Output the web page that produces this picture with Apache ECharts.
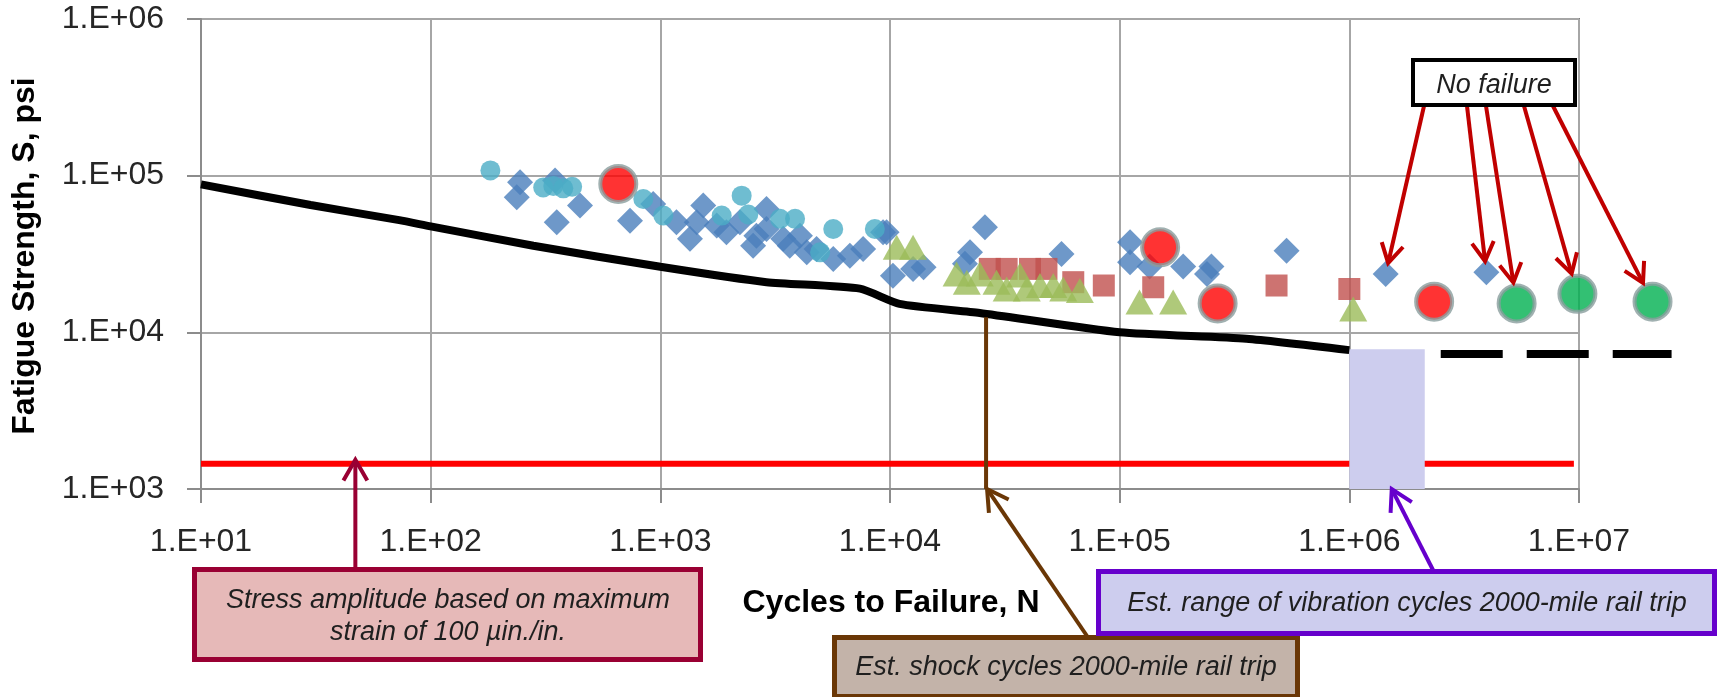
<!DOCTYPE html>
<html>
<head>
<meta charset="utf-8">
<script src="https://cdn.jsdelivr.net/npm/echarts@6/dist/echarts.min.js"></script>
<style>
html,body{margin:0;padding:0;background:#ffffff;}
#chart{width:1723px;height:697px;}
</style>
</head>
<body>
<div id="chart"></div>
<script>
// ---------------- data ----------------
const xAxisMin = 10, xAxisMax = 1e7;
const yAxisMin = 1000, yAxisMax = 1e6;

const blueDiamonds = [
  [245, 90800], [237, 72800], [348, 93000], [354, 50500], [447, 64400],
  [738, 51600], [931, 66000], [1175, 50500], [1346, 39500], [1538, 64400],
  [1440, 50500], [1760, 48000], [1940, 43600], [2220, 50500], [2535, 35700],
  [2620, 41400], [2900, 61200], [2900, 45700], [3430, 39500], [3660, 35700],
  [4055, 41400], [4340, 32400], [4790, 34000], [5660, 29400], [6690, 30800],
  [7640, 34000], [9330, 43600], [9660, 43600], [10300, 23000], [12600, 25400],
  [14000, 26000], [21200, 27400], [22300, 32400], [25900, 46900], [55800, 31600],
  [111000, 37600], [111000, 28000], [135000, 26300], [189000, 26300], [240000, 23600],
  [251000, 26300], [533000, 33200], [1440000, 23600], [3950000, 24200]
];
const cyanCircles = [
  [182, 108000], [309, 84000], [342, 86000], [378, 83000], [413, 85000],
  [843, 71000], [1030, 55600], [1850, 55600], [2260, 74500], [2415, 56500],
  [3320, 53000], [3860, 53000], [4960, 32400], [5660, 45700], [8590, 45700]
];
const redSquares = [
  [27200, 25400], [32200, 25400], [40700, 25400], [48000, 25400], [62800, 20900],
  [85300, 19900], [140000, 19400], [482000, 19900], [1000000, 18900]
];
const greenTriangles = [
  [10700, 34900], [12600, 34900], [19500, 23600], [21600, 20900], [24600, 23600],
  [29100, 20900], [32200, 18900], [36800, 23200], [39400, 18900], [45000, 19900],
  [51400, 19900], [56800, 18900], [67100, 18500], [122000, 15600], [171000, 15600],
  [1040000, 14100]
];
const redCircles = [[656, 88500], [150000, 34900], [267000, 15300], [2340000, 15700]];
const greenCircles = [[5350000, 15300], [9840000, 17600], [20900000, 15700]];

const designCurve = [
  [10, 88000], [30, 65000], [73, 52000], [100, 47500], [280, 35700], [1000, 26200],
  [2900, 20900], [7400, 19000], [11000, 15200], [24600, 13300], [100000, 10000],
  [356000, 9100], [1000000, 7700]
];
const enduranceExtension = [[2500000, 7280], [25300000, 7280]];
const strainLimit = [[10, 1450], [9500000, 1450]];
const vibrationRange = [1000000, 2130000];   // cycles
const vibrationStress = [1000, 7800];        // psi (bottom, top)
const shockCycles = 26200;
const shockLineTop = 12500;
const strainArrowCycles = 47;
const vibrationArrowCycles = 1530000;

// which points the "No failure" arrows point at, and their symbol radius
const noFailureTargets = [[1440000, 23600], [3950000, 24200], [5350000, 15300], [9840000, 17600], [20900000, 15700]];
const noFailureRadius = [11, 11, 21, 21, 21];

function tickLabel(v) {
  const e = Math.round(Math.log10(v));
  return '1.E+' + String(e).padStart(2, '0');
}

// ---------------- chart ----------------
const FONT = "'Liberation Sans', Arial, sans-serif";
const chart = echarts.init(document.getElementById('chart'), null, {renderer: 'canvas'});

const scatterBase = {type: 'scatter', clip: false, silent: true};

chart.setOption({
  animation: false,
  backgroundColor: '#ffffff',
  grid: {left: 201, top: 19, width: 1378, height: 470, show: true, borderColor: '#7a7a7a', borderWidth: 2, containLabel: false},
  xAxis: {
    type: 'log', logBase: 10, min: xAxisMin, max: xAxisMax, splitNumber: 6,
    axisLine: {show: true, lineStyle: {color: '#8c8c8c', width: 2}},
    axisTick: {show: true, length: 14, lineStyle: {color: '#8c8c8c', width: 2}},
    minorTick: {show: false},
    splitLine: {show: true, lineStyle: {color: '#a6a6a6', width: 2}},
    axisLabel: {formatter: tickLabel, fontSize: 32, fontFamily: FONT, color: '#262626', margin: 37, showMinLabel: true, showMaxLabel: true, hideOverlap: false}
  },
  yAxis: {
    type: 'log', logBase: 10, min: yAxisMin, max: yAxisMax, splitNumber: 3,
    axisLine: {show: true, lineStyle: {color: '#8c8c8c', width: 2}},
    axisTick: {show: true, length: 14, lineStyle: {color: '#8c8c8c', width: 2}},
    minorTick: {show: false},
    splitLine: {show: true, lineStyle: {color: '#a6a6a6', width: 2}},
    axisLabel: {formatter: tickLabel, fontSize: 32, fontFamily: FONT, color: '#262626', margin: 37, showMinLabel: true, showMaxLabel: true, hideOverlap: false}
  },
  series: [
    {
      name: 'Strain limit', type: 'line', data: strainLimit, symbol: 'none', z: 2, silent: true,
      lineStyle: {color: '#ff0000', width: 6}
    },
    {
      name: 'Vibration range', type: 'custom', z: 3, silent: true,
      data: [[vibrationRange[0], vibrationRange[1], vibrationStress[0], vibrationStress[1]]],
      encode: {x: [0, 1], y: [2, 3]},
      renderItem: function (params, api) {
        const p1 = api.coord([api.value(0), api.value(2)]);
        const p2 = api.coord([api.value(1), api.value(3)]);
        return {type: 'rect', shape: {x: p1[0], y: p2[1], width: p2[0] - p1[0], height: p1[1] - p2[1]}, style: {fill: '#cdcdee'}};
      }
    },
    {
      name: 'Design curve', type: 'line', data: designCurve, symbol: 'none', smooth: 0.2, z: 4, silent: true,
      lineStyle: {color: '#000000', width: 8}
    },
    {
      name: 'Endurance', type: 'custom', z: 4, silent: true, clip: false,
      data: [[enduranceExtension[0][0], enduranceExtension[1][0], enduranceExtension[0][1], enduranceExtension[1][1]]],
      encode: {x: [0, 1], y: [2, 3]},
      renderItem: function (params, api) {
        const p1 = api.coord([api.value(0), api.value(2)]);
        const p2 = api.coord([api.value(1), api.value(3)]);
        return {type: 'line', shape: {x1: p1[0], y1: p1[1], x2: p2[0], y2: p2[1]},
          style: {stroke: '#000000', lineWidth: 8, lineDash: [62, 24], lineCap: 'butt'}};
      }
    },
    Object.assign({}, scatterBase, {name: 'Set A', data: blueDiamonds, symbol: 'diamond', symbolSize: 26, z: 5, itemStyle: {color: '#4a7ebb'}}),
    Object.assign({}, scatterBase, {name: 'Set B', data: redSquares, symbol: 'rect', symbolSize: 22, z: 6, itemStyle: {color: '#c0504d'}}),
    Object.assign({}, scatterBase, {name: 'Set C', data: greenTriangles, symbol: 'triangle', symbolSize: [28, 25], z: 7, itemStyle: {color: '#9bbb59'}}),
    Object.assign({}, scatterBase, {name: 'Set D', data: cyanCircles, symbol: 'circle', symbolSize: 20, z: 8, itemStyle: {color: '#4bacc6'}}),
    Object.assign({}, scatterBase, {name: 'Set E', data: redCircles, symbol: 'circle', symbolSize: 36, z: 9, itemStyle: {color: '#ff0000', borderColor: '#8a9e9e', borderWidth: 4}}),
    Object.assign({}, scatterBase, {name: 'Set F', data: greenCircles, symbol: 'circle', symbolSize: 36, z: 9, itemStyle: {color: '#00b050', borderColor: '#8a9e9e', borderWidth: 4}})
  ]
});

// ---------------- annotations ----------------
function px(p) { return chart.convertToPixel({gridIndex: 0}, p); }

function arrow(x1, y1, x2, y2, color, w, len) {
  const dx = x2 - x1, dy = y2 - y1, L = Math.hypot(dx, dy);
  const bx = -dx / L, by = -dy / L;
  const a = 0.52, c = Math.cos(a), s = Math.sin(a);
  const l1 = [x2 + len * (bx * c - by * s), y2 + len * (bx * s + by * c)];
  const l2 = [x2 + len * (bx * c + by * s), y2 + len * (-bx * s + by * c)];
  return [
    {type: 'line', z: 100, silent: true, shape: {x1: x1, y1: y1, x2: x2 + bx * 1.5, y2: y2 + by * 1.5}, style: {stroke: color, lineWidth: w}},
    {type: 'polyline', z: 100, silent: true, shape: {points: [l1, [x2, y2], l2]}, style: {stroke: color, lineWidth: w, fill: null, lineJoin: 'miter'}}
  ];
}

function box(x, y, w, h, fill, stroke, lw, text, cx, cy, lineHeight) {
  return [
    {type: 'rect', z: 110, silent: true, shape: {x: x + lw / 2, y: y + lw / 2, width: w - lw, height: h - lw}, style: {fill: fill, stroke: stroke, lineWidth: lw}},
    {type: 'text', z: 111, silent: true, x: cx, y: cy, style: {
      text: text, font: 'italic 27px ' + FONT, fill: '#1f1f1f',
      align: 'center', verticalAlign: 'middle', textAlign: 'center', textVerticalAlign: 'middle',
      lineHeight: lineHeight || 32
    }}
  ];
}

const graphics = [];

// axis titles
graphics.push({type: 'text', z: 50, silent: true, x: 891, y: 603, style: {
  text: 'Cycles to Failure, N', font: 'bold 32px ' + FONT, fill: '#000000',
  align: 'center', verticalAlign: 'middle', textAlign: 'center', textVerticalAlign: 'middle'}});
graphics.push({type: 'text', z: 50, silent: true, x: 25, y: 256, rotation: Math.PI / 2, style: {
  text: 'Fatigue Strength, S, psi', font: 'bold 32px ' + FONT, fill: '#000000',
  align: 'center', verticalAlign: 'middle', textAlign: 'center', textVerticalAlign: 'middle'}});

// strain-limit annotation
const strainTip = px([strainArrowCycles, strainLimit[0][1]]);
graphics.push(...arrow(strainTip[0], 567, strainTip[0], strainTip[1] - 4, '#990033', 4, 24));
graphics.push(...box(192, 567, 511, 95, '#e6b9b8', '#990033', 5,
  'Stress amplitude based on maximum\nstrain of 100 \u00b5in./in.', 448, 616, 32));

// shock cycles annotation
const shockTop = px([shockCycles, shockLineTop]);
const shockBottom = px([shockCycles, yAxisMin]);
graphics.push({type: 'line', z: 90, silent: true, shape: {x1: shockTop[0], y1: shockTop[1], x2: shockBottom[0], y2: shockBottom[1]}, style: {stroke: '#6a3706', lineWidth: 4}});
graphics.push(...arrow(1087, 636, shockBottom[0] + 1, shockBottom[1], '#6a3706', 4, 24));
graphics.push(...box(832, 635, 468, 64, '#c3b3a9', '#6a3706', 5,
  'Est. shock cycles 2000-mile rail trip', 1066, 667));

// vibration annotation
const vibTip = px([vibrationArrowCycles, yAxisMin]);
graphics.push(...arrow(1433, 570, vibTip[0], vibTip[1], '#6600cc', 4, 24));
graphics.push(...box(1096, 569, 621, 67, '#cdcdee', '#6600cc', 5,
  'Est. range of vibration cycles 2000-mile rail trip', 1407, 603));

// no failure annotation
const nfStartX = [1424, 1467, 1486, 1524, 1553];
noFailureTargets.forEach(function (t, i) {
  const p = px(t);
  const sx = nfStartX[i], sy = 106;
  const dx = sx - p[0], dy = sy - p[1], L = Math.hypot(dx, dy);
  const tx = p[0] + dx / L * noFailureRadius[i], ty = p[1] + dy / L * noFailureRadius[i];
  graphics.push(...arrow(sx, sy, tx, ty, '#c00000', 4, 22));
});
graphics.push(...box(1411, 58, 166, 49, '#ffffff', '#000000', 4, 'No failure', 1494, 85));

chart.setOption({graphic: {elements: graphics}});
</script>
</body>
</html>
